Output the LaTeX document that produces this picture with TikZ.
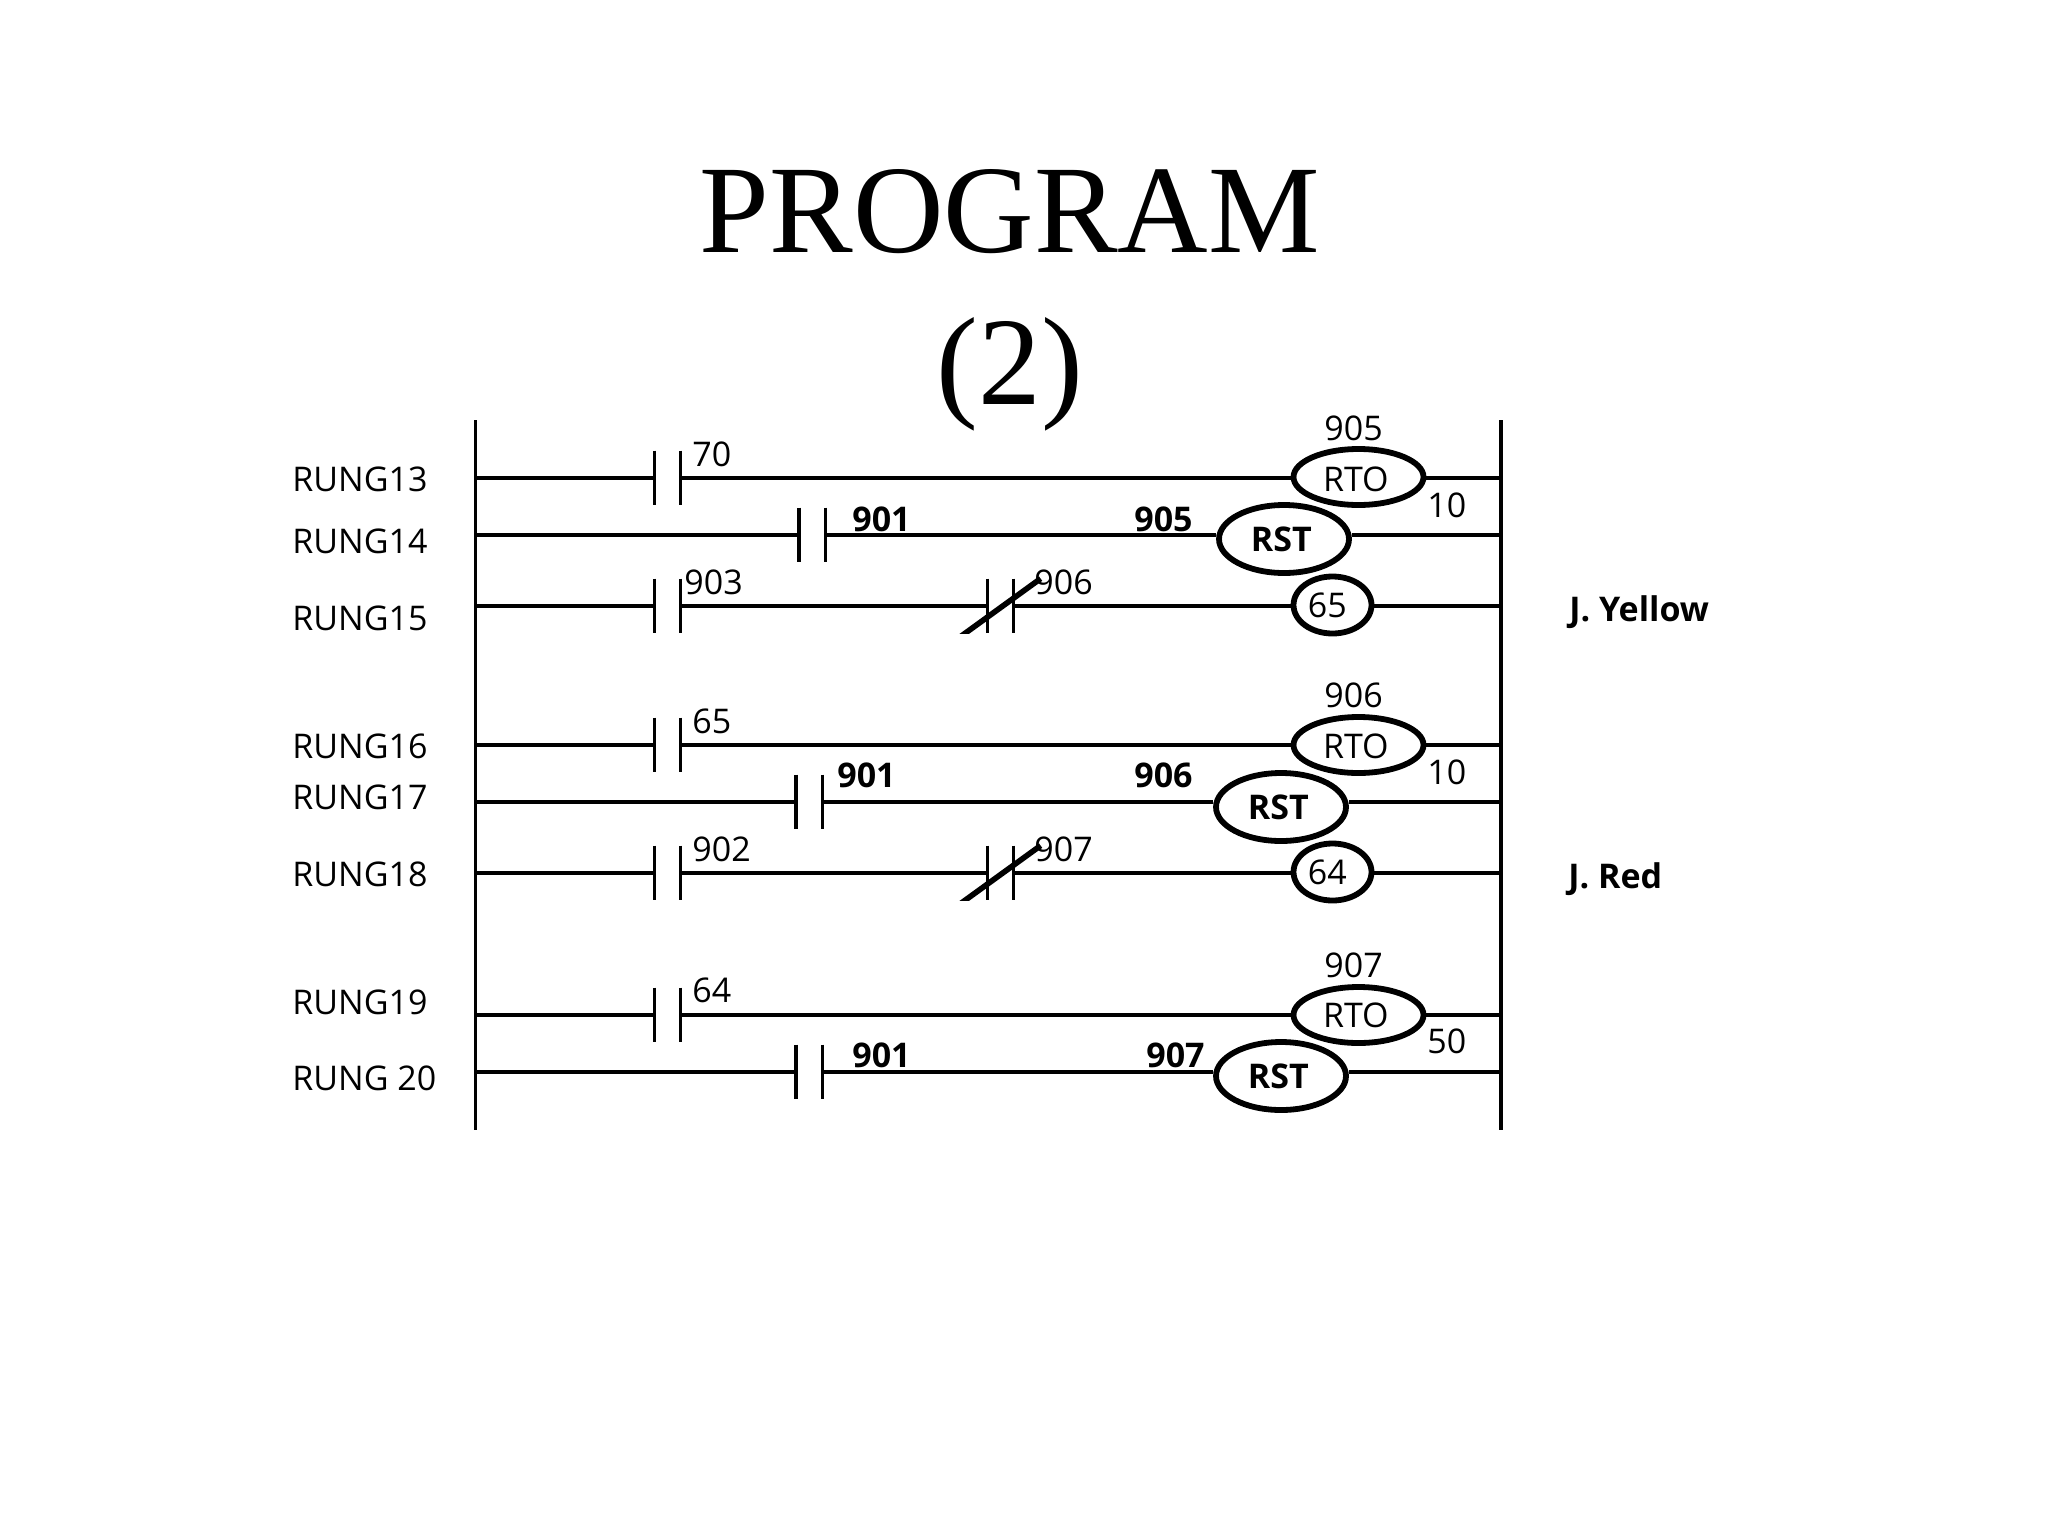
\documentclass[tikz,border=0pt]{standalone}
\usepackage{fontspec}
\setmainfont{Open Sans}
\newfontfamily\titlefont{Liberation Serif}
\usetikzlibrary{shapes.geometric,calc}
\tikzset{
  wire/.style={line width=1.6pt},
  rail/.style={line width=1.6pt},
  contact/.style={rectangle,inner sep=0pt,minimum width=12.7pt,minimum height=27pt,
    append after command={
      (\tikzlastnode.north west) edge[wire] (\tikzlastnode.south west)
      (\tikzlastnode.north east) edge[wire] (\tikzlastnode.south east)}},
  slash/.style={line width=2.8pt},
  coil/.style={ellipse,draw,line width=2.9pt,inner sep=0pt,fill=white,font=\fontsize{17}{20}\selectfont},
  rto/.style={coil,minimum width=65pt,minimum height=28pt},
  rst/.style={coil,minimum width=65pt,minimum height=34pt,font=\fontsize{17}{20}\selectfont\bfseries},
  lamp/.style={coil,minimum width=39pt,minimum height=28.5pt},
  lbl/.style={inner sep=0pt,anchor=base west,font=\fontsize{17}{20}\selectfont},
  blbl/.style={lbl,font=\fontsize{17}{20}\selectfont\bfseries},
  ttl/.style={inner sep=0pt,anchor=base,font=\titlefont\fontsize{62.7}{70}\selectfont}
}
\newcommand{\shifted}[3]{\kern#1pt\raisebox{#2pt}[\height][\depth]{#3}\kern-#1pt}
\begin{document}
\begin{tikzpicture}[x=0.5pt,y=-0.5pt]
\useasboundingbox (0,0) rectangle (2048,1536);
\node[ttl] (t1) at (1010,252) {PROGRAM};
\node[ttl] (t2) at (1010,404) {(2)};
% rails
\coordinate (ltop) at (475.5,420); \coordinate (lbot) at (475.5,1130);
\coordinate (rtop) at (1501,420); \coordinate (rbot) at (1501,1130);
\draw[rail] (ltop) -- (lbot);
\draw[rail] (rtop) -- (rbot);
% rung 13
\coordinate (l13) at (475.5,478); \coordinate (r13) at (1501,478);
\node[contact] (c13) at (667.5,478) {};
\node[rto] (e13) at (1358.5,477) {\shifted{-1.3}{-1.3}{RTO}};
\draw[wire] (l13) -- (c13.west) (c13.east) -- (c13.east -| e13.west) (e13.east |- r13) -- (r13);
% rung 14
\coordinate (l14) at (475.5,535); \coordinate (r14) at (1501,535);
\node[contact] (c14) at (812,535) {};
\node[rst] (e14) at (1284,539) {\shifted{-1.3}{0}{RST}};
\draw[wire] (l14) -- (c14.west) (c14.east) -- (c14.east -| e14.west) (e14.east |- r14) -- (r14);
% rung 15
\coordinate (l15) at (475.5,606); \coordinate (r15) at (1501,606);
\node[contact] (c15) at (667.5,606) {};
\node[contact] (n15) at (1000.5,606) {};
\node[lamp] (e15) at (1332.5,605) {\shifted{-2.6}{0}{65}};
\draw[wire] (l15) -- (c15.west) (c15.east) -- (n15.west) (n15.east) -- (n15.east -| e15.west) (e15.east |- r15) -- (r15);
\begin{scope}
\clip ($(n15.south west)+(-60,0)$) rectangle ($(n15.north east)+(60,-10)$);
\draw[slash] ($(n15.south west)+(-28,4)$) -- ($(n15.north east)+(27,0)$);
\end{scope}
% rung 16
\coordinate (l16) at (475.5,745); \coordinate (r16) at (1501,745);
\node[contact] (c16) at (667.5,745) {};
\node[rto] (e16) at (1358.5,745) {\shifted{-1.3}{-0.5}{RTO}};
\draw[wire] (l16) -- (c16.west) (c16.east) -- (e16.west) (e16.east) -- (r16);
% rung 17
\coordinate (l17) at (475.5,802); \coordinate (r17) at (1501,802);
\node[contact] (c17) at (809,802) {};
\node[rst] (e17) at (1281,807) {\shifted{-1.3}{0}{RST}};
\draw[wire] (l17) -- (c17.west) (c17.east) -- (c17.east -| e17.west) (e17.east |- r17) -- (r17);
% rung 18
\coordinate (l18) at (475.5,873); \coordinate (r18) at (1501,873);
\node[contact] (c18) at (667.5,873) {};
\node[contact] (n18) at (1000.5,873) {};
\node[lamp] (e18) at (1332.5,872) {\shifted{-2.6}{0}{64}};
\draw[wire] (l18) -- (c18.west) (c18.east) -- (n18.west) (n18.east) -- (n18.east -| e18.west) (e18.east |- r18) -- (r18);
\begin{scope}
\clip ($(n18.south west)+(-60,0)$) rectangle ($(n18.north east)+(60,-10)$);
\draw[slash] ($(n18.south west)+(-28,4)$) -- ($(n18.north east)+(27,0)$);
\end{scope}
% rung 19
\coordinate (l19) at (475.5,1015); \coordinate (r19) at (1501,1015);
\node[contact] (c19) at (667.5,1015) {};
\node[rto] (e19) at (1358.5,1015) {\shifted{-1.3}{0}{RTO}};
\draw[wire] (l19) -- (c19.west) (c19.east) -- (e19.west) (e19.east) -- (r19);
% rung 20
\coordinate (l20) at (475.5,1072); \coordinate (r20) at (1501,1072);
\node[contact] (c20) at (809,1072) {};
\node[rst] (e20) at (1281,1076) {\shifted{-1.3}{0}{RST}};
\draw[wire] (l20) -- (c20.west) (c20.east) -- (c20.east -| e20.west) (e20.east |- r20) -- (r20);
% rung names
\node[lbl] (n1) at (292,491) {RUNG13};
\node[lbl] (n2) at (292,553) {RUNG14};
\node[lbl] (n3) at (292,630) {RUNG15};
\node[lbl] (n4) at (292,758) {RUNG16};
\node[lbl] (n5) at (292,809) {RUNG17};
\node[lbl] (n6) at (292,886) {RUNG18};
\node[lbl] (n7) at (292,1014) {RUNG19};
\node[lbl] (n8) at (292,1090) {RUNG 20};
% contact labels
\node[lbl] (a1) at (692,466) {70};
\node[blbl] (a2) at (852,531) {901};
\node[lbl] (a3) at (684,594) {903};
\node[lbl] (a4) at (1034,594) {906};
\node[lbl] (a5) at (692,733) {65};
\node[blbl] (a6) at (837,787) {901};
\node[lbl] (a7) at (692,861) {902};
\node[lbl] (a8) at (1034,861) {907};
\node[lbl] (a9) at (692,1002) {64};
\node[blbl] (a10) at (852,1067) {901};
% coil labels
\node[lbl] (b1) at (1324,440) {905};
\node[lbl] (b2) at (1427,517) {10};
\node[blbl] (b3) at (1134,531) {905};
\node[lbl] (b4) at (1324,707) {906};
\node[lbl] (b5) at (1427,784) {10};
\node[blbl] (b6) at (1134,787) {906};
\node[lbl] (b7) at (1324,977) {907};
\node[lbl] (b8) at (1427,1053) {50};
\node[blbl] (b9) at (1146,1067) {907};
\node[blbl] (o1) at (1569,621) {J. Yellow};
\node[blbl] (o2) at (1568,888) {J. Red};
\end{tikzpicture}
\end{document}
